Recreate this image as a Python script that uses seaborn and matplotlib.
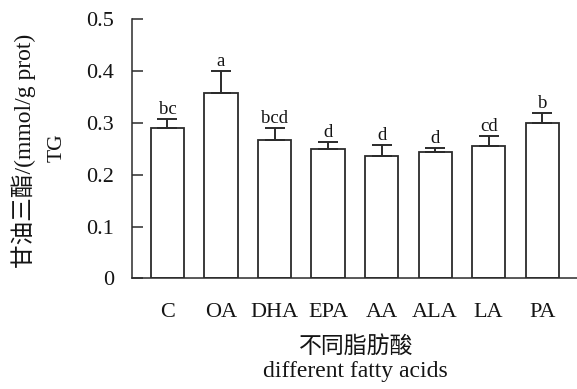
import numpy as np
import pandas as pd
import matplotlib
matplotlib.use("Agg")
import matplotlib.pyplot as plt
import seaborn as sns

# Triglyceride content for each fatty acid treatment
acids = ["C", "OA", "DHA", "EPA", "AA", "ALA", "LA", "PA"]
tg_mean = [0.291, 0.358, 0.267, 0.250, 0.237, 0.244, 0.256, 0.300]
tg_sd = [0.017, 0.042, 0.024, 0.014, 0.021, 0.008, 0.019, 0.020]
sig_letters = ["bc", "a", "bcd", "d", "d", "d", "cd", "b"]
y_ticks = [0, 0.1, 0.2, 0.3, 0.4, 0.5]
y_tick_labels = ["0", "0.1", "0.2", "0.3", "0.4", "0.5"]

sns.set_theme(style="ticks")
fonts = ["Liberation Serif", "Noto Sans CJK SC"]
plt.rcParams["font.family"] = fonts

df = pd.DataFrame({"acid": acids, "tg": tg_mean})

W, H = 577, 389
fig = plt.figure(figsize=(W / 100, H / 100), dpi=100)
ax = fig.add_axes([132 / W, 1 - 278.3 / H, 1 - 132 / W, (278.3 - 19.3) / H])

ink = "#2b2b2b"
txt = "#141414"
sns.barplot(data=df, x="acid", y="tg", order=acids, color="white",
            edgecolor=ink, linewidth=1.3, width=0.62, errorbar=None, ax=ax)

x = np.arange(len(acids))
ax.errorbar(x, tg_mean, yerr=[np.zeros(len(acids)), tg_sd], fmt="none",
            ecolor=ink, elinewidth=1.4, capsize=7.2, capthick=1.4)

for xi, m, s, lab in zip(x, tg_mean, tg_sd, sig_letters):
    ax.text(xi, m + s + 0.009, lab, ha="center", va="baseline",
            fontsize=13.5, color=txt, family=fonts)

ax.set_xlim(-0.663, 7.65)
ax.set_ylim(0, 0.5)
ax.set_yticks(y_ticks)
ax.set_yticklabels(y_tick_labels)
ax.tick_params(axis="y", direction="in", length=8, width=1.1, color=ink,
               labelsize=16, pad=13, labelcolor=txt)
ax.tick_params(axis="x", length=0, labelsize=16, pad=18, labelcolor=txt)

for side in ["top", "right"]:
    ax.spines[side].set_visible(False)
for side in ["left", "bottom"]:
    ax.spines[side].set_color(ink)
    ax.spines[side].set_linewidth(1.1)

ax.set_xlabel("")
ax.set_ylabel("")

# Axis titles (Chinese / English)
fig.text(356 / W, 1 - 347 / H, "不同脂肪酸", ha="center", va="center",
         fontsize=16.5, color=txt, family=fonts, fontweight="light")
fig.text(355.5 / W, 1 - 376.7 / H, "different fatty acids", ha="center",
         va="baseline", fontsize=17, color=txt, family=fonts)
fig.text(24 / W, 1 - 151 / H, "甘油三酯/(mmol/g prot)", ha="center",
         va="center", rotation=90, fontsize=17, color=txt, family=fonts,
         fontweight="light")
fig.text(57 / W, 1 - 147.5 / H, "TG", ha="center", va="center",
         rotation=90, fontsize=15.5, color=txt, family=fonts)

fig.savefig("out.png", dpi=100)
